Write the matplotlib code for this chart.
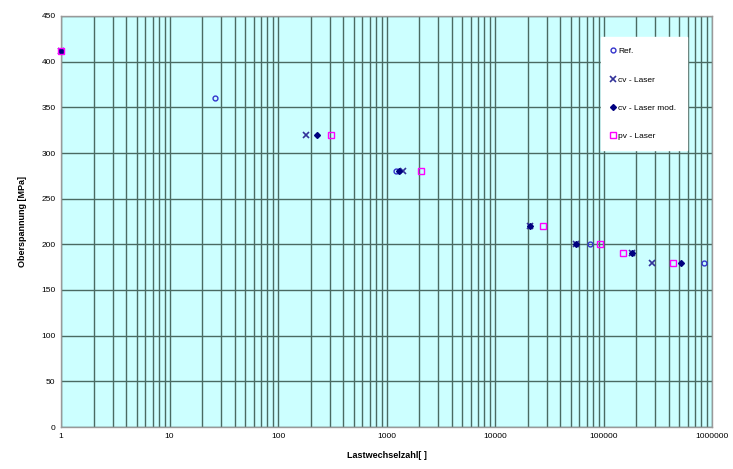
import matplotlib
matplotlib.use("Agg")
import matplotlib.pyplot as plt
from matplotlib.ticker import LogLocator, FixedLocator, FixedFormatter

plt.rcParams['font.family'] = ['Liberation Sans', 'DejaVu Sans']

ref_x = [26, 1230, 75000, 850000]
ref_y = [360, 280, 200, 180]
cv_x = [1, 180, 1420, 21000, 56000, 182000, 280000]
cv_y = [412, 320, 280, 220, 200, 190, 180]
mod_x = [1, 230, 1300, 21000, 56000, 182000, 520000]
mod_y = [412, 320, 280, 220, 200, 190, 180]
pv_x = [1, 308, 2080, 27500, 93000, 150000, 440000]
pv_y = [412, 320, 280, 220, 200, 190, 180]

xticks = [1, 10, 100, 1000, 10000, 100000, 1000000]
xticklabels = ['1', '10', '100', '1000', '10000', '100000', '1000000']
yticks = list(range(0, 451, 50))

fig = plt.figure(figsize=(7.33, 4.69), dpi=100)
ax = fig.add_axes([61/733, 1-427/469, (712-61)/733, (427-16)/469])
ax.set_facecolor('#CCFFFF')
ax.set_xscale('log')
ax.set_xlim(1, 1e6)
ax.set_ylim(0, 450)

ax.xaxis.set_major_locator(FixedLocator(xticks))
ax.xaxis.set_major_formatter(FixedFormatter(xticklabels))
ax.xaxis.set_minor_locator(LogLocator(base=10, subs=range(2, 10)))
ax.xaxis.set_minor_formatter(plt.NullFormatter())
ax.set_yticks(yticks)

ax.grid(True, which='major', axis='both', color='#4a6a62', lw=1.0)
ax.grid(True, which='minor', axis='x', color='#4a6a62', lw=1.0)
ax.set_axisbelow(True)
for s in ax.spines.values():
    s.set_color('#999999')
    s.set_linewidth(1.0)
ax.tick_params(axis='both', which='both', length=0, labelsize=6, pad=4, colors='black')

ax.plot(ref_x, ref_y, ls='none', marker='o', ms=3.5, mfc='none', mec='#3333CC', mew=1.0,
        label='Ref.', clip_on=False, zorder=3)
ax.plot(cv_x, cv_y, ls='none', marker='x', ms=4.5, mec='#333399', mew=1.2,
        label='cv - Laser', clip_on=False, zorder=3)
ax.plot(mod_x, mod_y, ls='none', marker='D', ms=3, mfc='#000080', mec='#000080',
        label='cv - Laser mod.', clip_on=False, zorder=3)
ax.plot(pv_x, pv_y, ls='none', marker='s', ms=4, mfc='none', mec='#FF00FF', mew=1.0,
        label='pv - Laser', clip_on=False, zorder=3)

leg = ax.legend(loc='upper right', bbox_to_anchor=((687-61)/(712-61), (427-37)/(427-16)),
                fontsize=6, frameon=True, fancybox=False, edgecolor='white',
                framealpha=1, labelspacing=2.45, handlelength=0.6, handletextpad=0.3,
                borderpad=1.25, borderaxespad=0)

ax.set_xlabel('Lastwechselzahl[ ]', fontsize=6.5, fontweight='bold', labelpad=8)
ax.set_ylabel('Oberspannung [MPa]', fontsize=6.5, fontweight='bold', labelpad=10)

fig.savefig('out.png', dpi=100)
